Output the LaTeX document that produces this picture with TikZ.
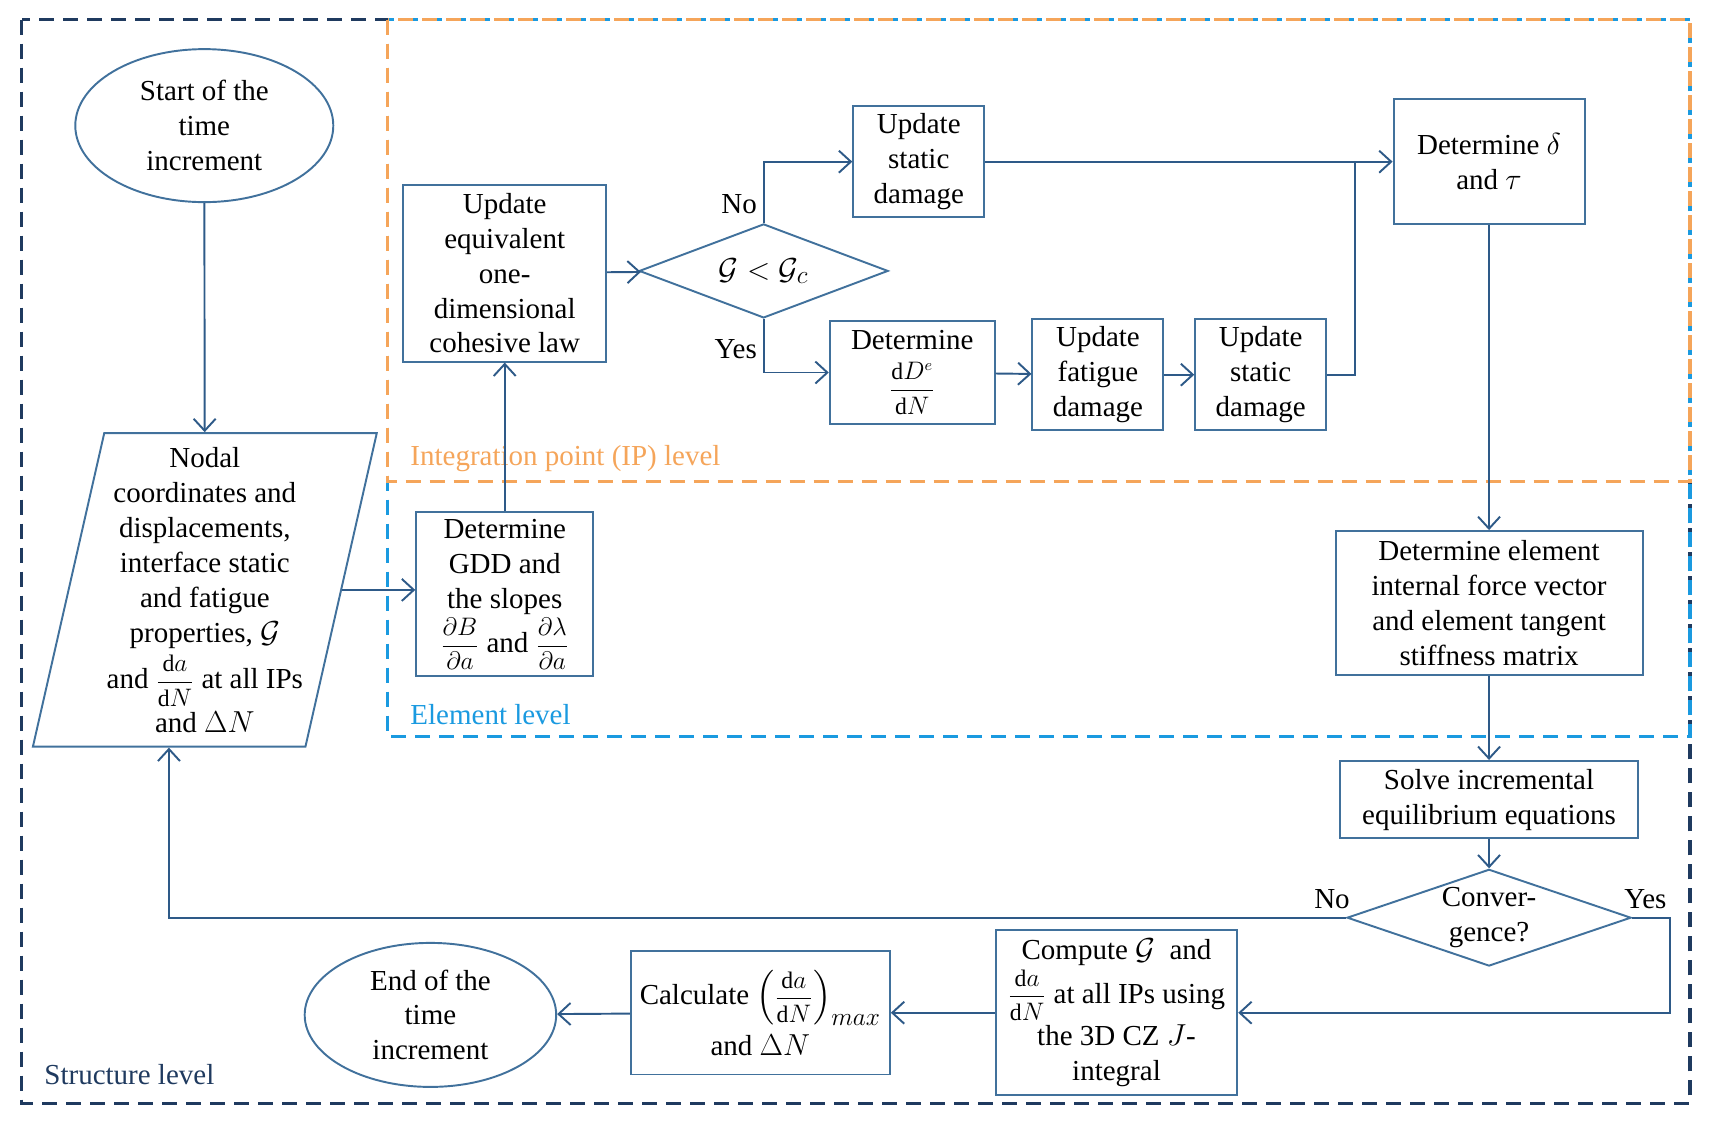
\documentclass[tikz,border=0pt]{standalone}
\usepackage{amsmath}
\usepackage{fontspec}
\setmainfont{Liberation Serif}
\usepackage{tikz}
\usetikzlibrary{arrows.meta, shapes.geometric, positioning}

\definecolor{boxcol}{HTML}{41719C}
\definecolor{linecol}{HTML}{2E5A88}
\definecolor{strucol}{HTML}{1F3A5F}
\definecolor{ipcol}{HTML}{F5A55A}
\definecolor{elcol}{HTML}{1A9AE0}

% fraction set a little smaller than the text
\newcommand{\bigfrac}[2]{{\fontsize{13.5}{14}\selectfont$\dfrac{#1}{#2}$}}

\begin{document}
\begin{tikzpicture}[x=0.02185cm, y=-0.02185cm,
  every node/.style={font=\fontsize{16.5}{19.9}\selectfont},
  procbox/.style={draw=boxcol, line width=1.1pt, align=center, inner sep=0pt},
  termbox/.style={procbox, ellipse},
  decbox/.style={procbox, diamond, aspect=2.6},
  arr/.style={draw=linecol, line width=1.1pt, -{Straight Barb[length=2.4mm, width=4.4mm]}},
  conn/.style={draw=linecol, line width=1.1pt},
  frame/.style={line width=1.8pt, dash pattern=on 3mm off 1.8mm}]
\useasboundingbox (0,0) rectangle (1568,1028);
% level frames
\draw[frame, strucol] (20,18) rectangle (1547,1010);
\draw[frame, elcol] (355,18) rectangle (1547,674);
\draw[frame, ipcol] (355,18) rectangle (1547,441);
\node[anchor=west, text=ipcol] (iplbl) at (370,420) {Integration point (IP) level};
\node[anchor=west, text=elcol] (ellbl) at (370,654) {Element level};
\node[anchor=west, text=strucol] (stlbl) at (35,984) {Structure level};

% structure level
\node[termbox, minimum width=5.16cm, minimum height=3.06cm] (start) at (187,115) {Start of the\\time\\increment};
\node[procbox, trapezium, trapezium left angle=76.3, trapezium right angle=103.7, trapezium stretches=true,
  minimum width=6.88cm, minimum height=6.27cm] (input) at (187.5,540)
  {Nodal\\coordinates and\\displacements,\\interface static\\and fatigue\\properties, $\mathcal{G}$\\[3pt]
   and \bigfrac{\mathrm{d}a}{\mathrm{d}N} at all IPs\\[2pt]and $\Delta N$};

% element level
\node[procbox, minimum width=3.54cm, minimum height=3.28cm] (gdd) at (462,544)
  {Determine\\GDD and\\the slopes\\[1pt]\bigfrac{\partial B}{\partial a} and \bigfrac{\partial\lambda}{\partial a}};

% integration point level
\node[procbox, minimum width=4.06cm, minimum height=3.54cm] (upd) at (462,250)
  {Update\\equivalent\\one-\\dimensional\\cohesive law};
\node[decbox, minimum width=4.98cm, minimum height=1.88cm, font=\fontsize{19}{20}\selectfont] (cond) at (699,248) {$\mathcal{G}<\mathcal{G}_c$};
\node[procbox, minimum width=2.62cm, minimum height=2.23cm] (stat1) at (841,148) {Update\\static\\damage};
\node[procbox, minimum width=3.30cm, minimum height=2.05cm] (dde) at (835,341)
  {Determine\\[7pt]\bigfrac{\mathrm{d}D^e}{\mathrm{d}N}};
\node[procbox, minimum width=2.62cm, minimum height=2.23cm] (fat) at (1005,343) {Update\\fatigue\\damage};
\node[procbox, minimum width=2.62cm, minimum height=2.23cm] (stat2) at (1154,343) {Update\\static\\damage};
\node[procbox, minimum width=3.82cm, minimum height=2.51cm] (dtau) at (1363,148) {Determine $\delta$\\and $\tau$};
\coordinate (jn) at (1240,148);

\node[procbox, minimum width=6.14cm, minimum height=2.88cm] (elem) at (1363,552)
  {Determine element\\internal force vector\\and element tangent\\stiffness matrix};
\node[procbox, minimum width=5.97cm, minimum height=1.55cm] (solve) at (1363,732)
  {Solve incremental\\equilibrium equations};
\node[decbox, minimum width=5.68cm, minimum height=1.90cm] (conv) at (1363,840) {Conver-\\gence?};
\node[procbox, minimum width=4.83cm, minimum height=3.30cm] (comp) at (1022,927)
  {Compute $\mathcal{G}$\ \ and\\[1pt]\bigfrac{\mathrm{d}a}{\mathrm{d}N} at all IPs using\\[1pt]the 3D CZ $J$-\\integral};
\node[procbox, minimum width=5.18cm, minimum height=2.47cm] (calc) at (696,927)
  {Calculate $\left(\vcenter{\hbox{\bigfrac{\mathrm{d}a}{\mathrm{d}N}}}\right)_{\hbox{\fontsize{14}{14}\selectfont$max$}}$\\[4pt]and $\Delta N$};
\node[termbox, minimum width=5.03cm, minimum height=2.88cm] (stop) at (394,929) {End of the\\time\\increment};

% connectors
\draw[arr] (start) -- (input);
\draw[arr] (input.right side) -- (input.right side -| gdd.west);
\draw[arr] (gdd) -- (upd);
\draw[arr] (upd) -- (cond);
\draw[arr] (cond.north) |- node[pos=0.15, left] (nolbl) {No} (stat1);
\draw[arr] (cond.south) |- node[pos=0.28, left] (yeslbl) {Yes} (dde);
\draw[arr] (dde) -- (fat);
\draw[arr] (fat) -- (stat2);
\draw[conn] (stat2.east) -| (jn);
\draw[arr] (stat1) -- (dtau);
\draw[arr] (dtau) -- (elem);
\draw[arr] (elem) -- (solve);
\draw[arr] (solve) -- (conv);
\draw[arr] (conv.west) -| node[pos=0.006, above=1pt] (nolbl2) {No} (input.bottom side);
\draw[arr] (conv.east) -- node[pos=0.35, above=1pt] (yeslbl2) {Yes} ++(35,0) |- (comp);
\draw[arr] (comp) -- (calc);
\draw[arr] (calc) -- (stop);
\end{tikzpicture}
\end{document}
